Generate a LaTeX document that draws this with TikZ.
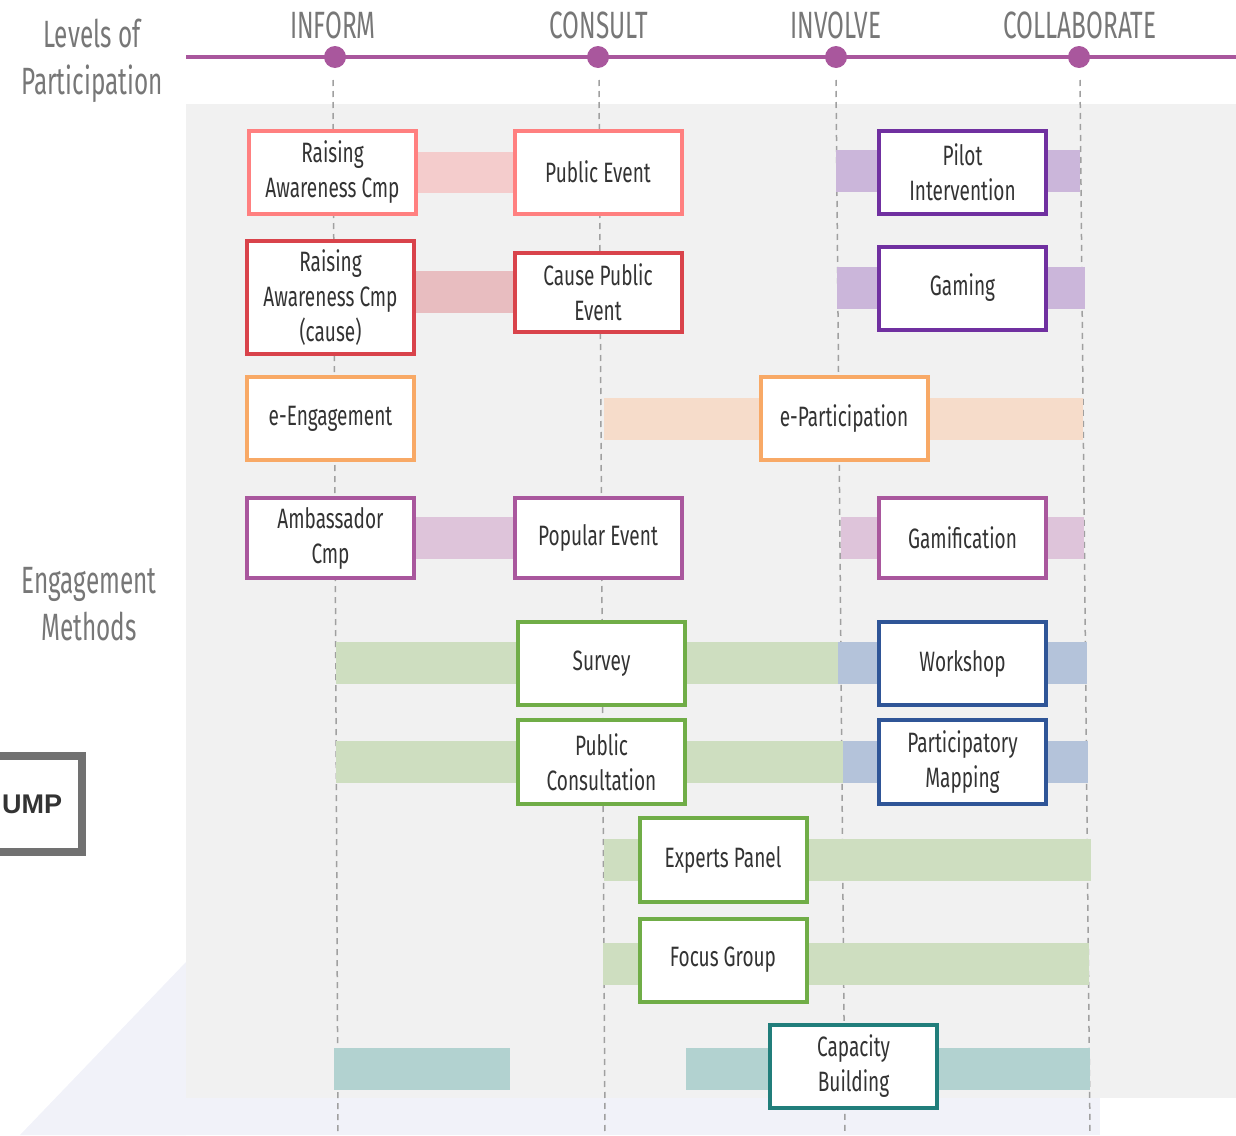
\documentclass[tikz,border=0pt]{standalone}
\usepackage{fontspec}
\setmainfont{Fira Sans}[FakeStretch=0.68]
\newfontfamily\hdrfamily{Fira Sans}[FakeStretch=0.64]
\newfontfamily\umpfont{Liberation Sans}
\definecolor{axispurple}{HTML}{A9579D}
\definecolor{txt}{HTML}{333333}
\definecolor{hdr}{HTML}{777777}
\definecolor{bggray}{HTML}{F1F1F1}
\definecolor{cSalmon}{HTML}{FF8080}
\definecolor{cRed}{HTML}{D9434B}
\definecolor{cOrange}{HTML}{F8A966}
\definecolor{cViolet}{HTML}{7030A0}
\definecolor{cGreen}{HTML}{70AD47}
\definecolor{cBlue}{HTML}{2F5597}
\definecolor{cTeal}{HTML}{217E7B}
\definecolor{bSalmon}{HTML}{F4CCCC}
\definecolor{bRed}{HTML}{E8BDC0}
\definecolor{bOrange}{HTML}{F6DCCA}
\definecolor{bPink}{HTML}{DEC4DA}
\definecolor{bViolet}{HTML}{CBB6DA}
\definecolor{bGreen}{HTML}{CEDEC0}
\definecolor{bBlue}{HTML}{B4C3DA}
\definecolor{bTeal}{HTML}{B2D2D0}
\definecolor{wmark}{HTML}{F1F2F9}
\newcommand\myboxfont{\fontsize{28}{35}\selectfont}
\newcommand\myhdrfont{\hdrfamily\fontsize{38}{47}\selectfont}
\begin{document}
\begin{tikzpicture}[x=1pt,y=-1pt,
  box/.style={draw=#1, line width=4pt, fill=white, minimum width=167pt,
    minimum height=83pt, inner sep=0pt, align=center, font=\myboxfont, text=txt},
  dot/.style={circle, fill=axispurple, minimum size=22pt, inner sep=0pt},
  level/.style={font=\myhdrfont, text=hdr, inner sep=0pt},
  vline/.style={draw=hdr!70, line width=1.5pt, dash pattern=on 6pt off 5pt}]
\useasboundingbox (0,0) rectangle (1236,1135);
% faint watermark fragments
\fill[wmark] (20,1135) -- (186,962) -- (186,1135) -- cycle;
\fill[wmark] (186,1098) -- (1100,1098) -- (1100,1135) -- (186,1135) -- cycle;
% grey panel
\fill[bggray] (186,104) rectangle (1236,1098);
% axis
\draw[axispurple, line width=4pt] (186,57) -- (1236,57);
\node[dot] (dInf) at (335,57) {};
\node[dot] (dCon) at (598,57) {};
\node[dot] (dInv) at (836,57) {};
\node[dot] (dCol) at (1079,57) {};
\node[level] (lInf) at (333,25) {INFORM};
\node[level] (lCon) at (599,25) {CONSULT};
\node[level] (lInv) at (836,25) {INVOLVE};
\node[level] (lCol) at (1080,25) {COLLABORATE};
\node[level, align=center] (lvl) at (92,61) {Levels of\\Participation};
\node[level, align=center] (eng) at (89,604) {Engagement\\Methods};
% dashed level lines
\coordinate (tInf) at (333,80);  \coordinate (bInf) at (338,1135);
\coordinate (tCon) at (599,80);  \coordinate (bCon) at (605,1135);
\coordinate (tInv) at (836,80);  \coordinate (bInv) at (845,1135);
\coordinate (tCol) at (1080,80); \coordinate (bCol) at (1090,1135);
\draw[vline] (tInf) -- (bInf);
\draw[vline] (tCon) -- (bCon);
\draw[vline] (tInv) -- (bInv);
\draw[vline] (tCol) -- (bCol);
% bands
\fill[bSalmon] (418,152) rectangle (513,193);
\fill[bRed] (416,271) rectangle (513,313);
\fill[bOrange] (604,398) rectangle (1083,440);
\fill[bPink] (416,517) rectangle (513,559);
\fill[bPink] (841,517) rectangle (1084,559);
\fill[bViolet] (836,150) rectangle (1080,192);
\fill[bViolet] (837,267) rectangle (1085,309);
\fill[bGreen] (336,642) rectangle (838,684);
\fill[bBlue] (838,642) rectangle (1087,684);
\fill[bGreen] (336,741) rectangle (843,783);
\fill[bBlue] (843,741) rectangle (1088,783);
\fill[bGreen] (604,839) rectangle (1091,881);
\fill[bGreen] (603,943) rectangle (1089,985);
\fill[bTeal] (334,1048) rectangle (510,1090);
\fill[bTeal] (686,1048) rectangle (1090,1090);
% method boxes
\node[box=cSalmon] (ra) at (332.5,172) {Raising\\Awareness Cmp};
\node[box=cSalmon] (pe) at (598,172) {Public Event};
\node[box=cRed, minimum height=113pt] (rac) at (330.5,297.5) {Raising\\Awareness Cmp\\(cause)};
\node[box=cRed, minimum height=79pt] (cpe) at (598,292.5) {Cause Public\\Event};
\node[box=cOrange] (ee) at (330.5,418.5) {e-Engagement};
\node[box=cOrange] (ep) at (844,418.5) {e-Participation};
\node[box=axispurple, minimum height=80pt] (amb) at (330.5,538) {Ambassador\\Cmp};
\node[box=axispurple, minimum height=80pt] (pop) at (598,538) {Popular Event};
\node[box=axispurple, minimum height=80pt] (gam) at (962.5,538) {Gamification};
\node[box=cViolet] (pil) at (962.5,172.5) {Pilot\\Intervention};
\node[box=cViolet] (gmg) at (962.5,288) {Gaming};
\node[box=cGreen] (sur) at (601.5,663.5) {Survey};
\node[box=cBlue] (wks) at (962.5,663.5) {Workshop};
\node[box=cGreen, minimum height=84pt] (pco) at (601.5,762) {Public\\Consultation};
\node[box=cBlue, minimum height=84pt] (pmap) at (962.5,762) {Participatory\\Mapping};
\node[box=cGreen, minimum height=84pt] (exp) at (723,860) {Experts Panel};
\node[box=cGreen] (foc) at (723,960) {Focus Group};
\node[box=cTeal] (cap) at (853.5,1066.5) {Capacity\\Building};
% cut-off box on the left
\draw[hdr!95!black, line width=8pt, fill=white] (-20,756) rectangle (82,852);
\node[anchor=west, inner sep=0pt, font=\umpfont\bfseries\fontsize{27}{30}\selectfont, text=txt] (ump) at (2,804) {UMP};
\end{tikzpicture}
\end{document}
